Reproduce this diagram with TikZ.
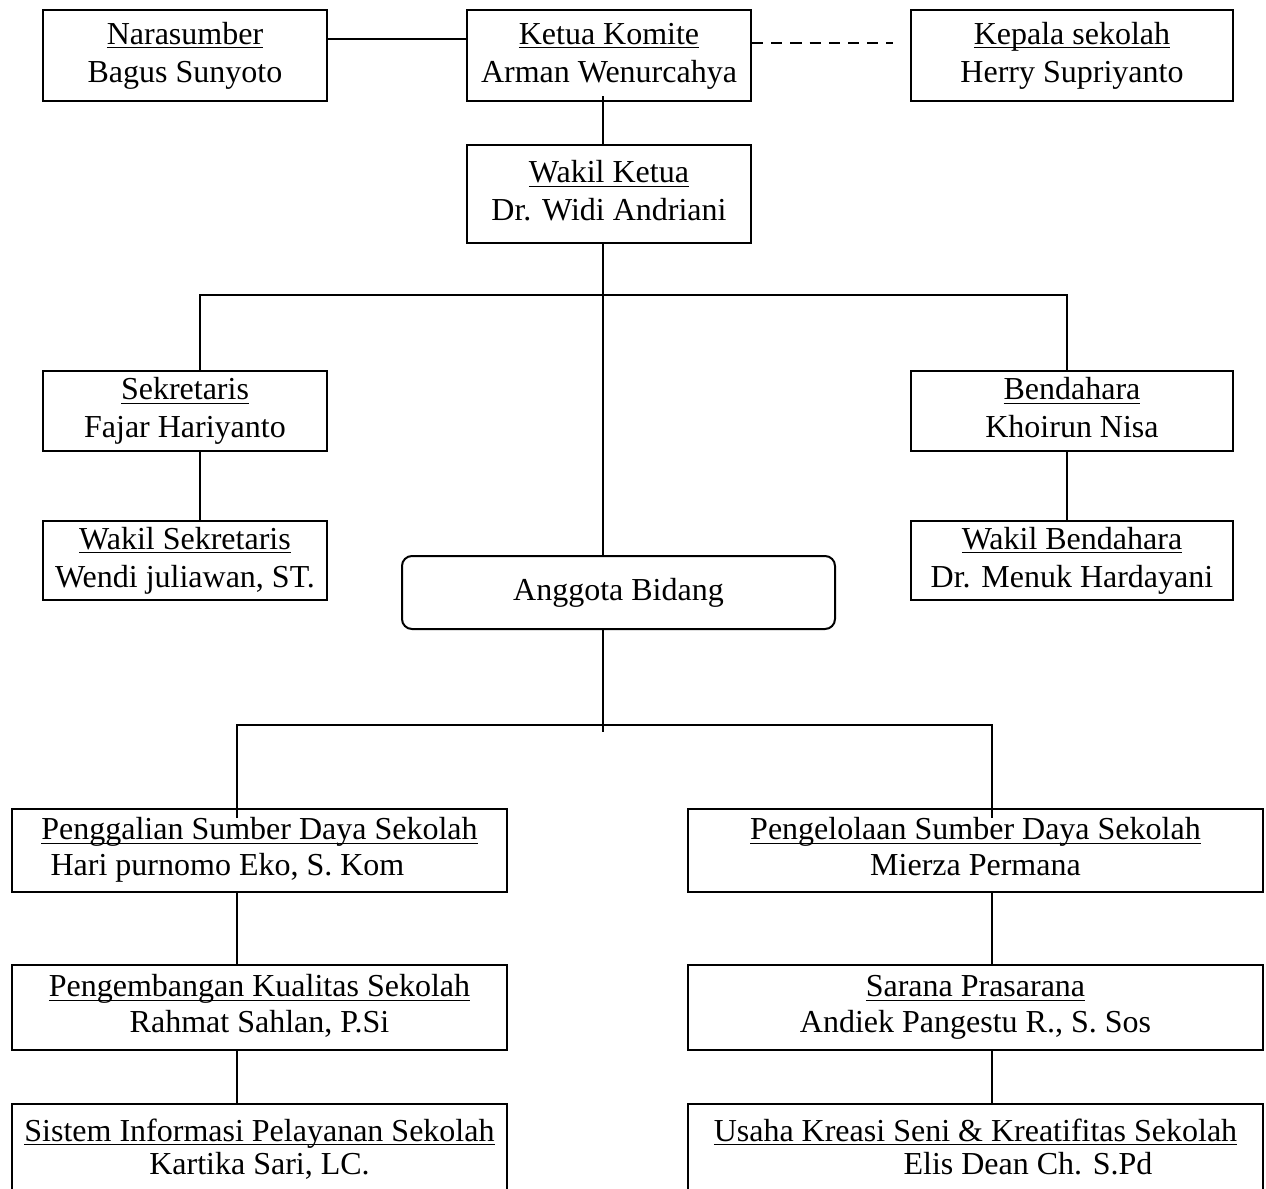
\documentclass[tikz,border=0pt]{standalone}
\usepackage{fontspec}
\setmainfont{Liberation Serif}
\newcommand{\jab}[2]{\strut\underline{\smash{#1}}\\#2\strut}
\usetikzlibrary{positioning}

\begin{document}
\begin{tikzpicture}[
        box/.style={draw, line width=0.75pt, align=center, inner sep=0pt,
            font=\fontsize{12pt}{14.25pt}\selectfont},
        sempit/.style={box, minimum width=106.5pt},
        lebar/.style={box, minimum width=120.75pt},
        kiri/.style={box, minimum width=185.625pt},
        kanan/.style={box, minimum width=215.625pt},
        jarak36/.style={font=\fontsize{12pt}{13.5pt}\selectfont},
        jarak30/.style={font=\fontsize{12pt}{11.25pt}\selectfont},
        garis/.style={line width=0.75pt}]

        \useasboundingbox (-69.375pt, 20.8125pt) rectangle (405.375pt, -425.0625pt);
        \clip (-69.375pt, 20.8125pt) rectangle (405.375pt, -425.0625pt);

        % Pengurus inti
        \node[sempit, minimum height=34.125pt] (nara) at (0, 0)
        {\jab{Narasumber}{Bagus Sunyoto}};
        \node[sempit, minimum height=34.125pt] (ketua) [right=51.75pt of nara]
        {\jab{Ketua Komite}{Arman Wenurcahya}};
        \node[lebar, minimum height=34.125pt] (kepala) [right=59.25pt of ketua]
        {\jab{Kepala sekolah}{Herry Supriyanto}};
        \node[sempit, minimum height=36.75pt] (wakil) [below=15.75pt of ketua]
        {\jab{Wakil Ketua}{Dr. Widi Andriani}};

        \node[sempit, minimum height=30pt] (sek) [below=100.5pt of nara]
        {\jab{Sekretaris}{Fajar Hariyanto}};
        \node[sempit, minimum height=29.625pt] (wsek) [below=25.5pt of sek]
        {\jab{Wakil Sekretaris}{Wendi juliawan, ST.}};
        \node[lebar, minimum height=30pt] (bend) [below=100.5pt of kepala]
        {\jab{Bendahara}{Khoirun Nisa}};
        \node[lebar, minimum height=29.625pt] (wbend) [below=25.5pt of bend]
        {\jab{Wakil Bendahara}{Dr. Menuk Hardayani}};

        \node[box, rounded corners=3.75pt, minimum width=162.375pt,
            minimum height=27.375pt] (ang) [below=116.625pt of wakil, xshift=3.5625pt]
        {Anggota Bidang};

        % Bidang-bidang
        \node[kiri, jarak36, minimum height=31.125pt] (gali) [below=66.75pt of ang, xshift=-134.625pt]
        {\jab{Penggalian Sumber Daya Sekolah}{Hari purnomo Eko, S. Kom\hspace*{24pt}}};
        \node[kanan, jarak36, minimum height=31.125pt] (kelola) [right=67.125pt of gali]
        {\jab{Pengelolaan Sumber Daya Sekolah}{Mierza Permana}};
        \node[kiri, jarak36, minimum height=31.875pt] (kembang) [below=26.625pt of gali]
        {\jab{Pengembangan Kualitas Sekolah}{Rahmat Sahlan, P.Si}};
        \node[kanan, jarak36, minimum height=31.875pt] (sarana) [below=26.625pt of kelola]
        {\jab{Sarana Prasarana}{Andiek Pangestu R., S. Sos}};
        \node[kiri, jarak30, minimum height=52.5pt] (sistem) [below=19.5pt of kembang]
        {\jab{Sistem Informasi Pelayanan Sekolah}{Kartika Sari, LC.\rule[-19.875pt]{0pt}{0pt}}};
        \node[kanan, jarak30, minimum height=52.5pt] (usaha) [below=19.5pt of sarana]
        {\jab{Usaha Kreasi Seni \& Kreatifitas Sekolah}{\hspace*{39.4pt}Elis Dean Ch. S.Pd\rule[-19.875pt]{0pt}{0pt}}};

        \begin{scope}[garis]
            \draw ([yshift=6.1875pt]nara.east) -- ([yshift=6.1875pt]ketua.west);
            \draw[line width=0.9pt, dash pattern=on 4.2pt off 3pt, shorten >=6.4pt]
                ([yshift=4.6875pt]ketua.east) -- ([yshift=4.6875pt]kepala.west);
            \draw ([xshift=-2.25pt, yshift=2.25pt]ketua.south) -- ([xshift=-2.25pt]wakil.north);
            \draw ([xshift=-2.25pt]wakil.south) -- ([xshift=-5.8125pt]ang.north);
            \draw ([xshift=5.625pt]sek.north)
                |- ([xshift=-2.25pt, yshift=-19.125pt]wakil.south)
                -| ([xshift=-1.875pt]bend.north);
            \draw ([xshift=5.625pt]sek.south) -- ([xshift=5.625pt]wsek.north);
            \draw ([xshift=-1.875pt]bend.south) -- ([xshift=-1.875pt]wbend.north);

            \draw ([xshift=-8.4375pt, yshift=-3.75pt]gali.north)
                |- ([xshift=-5.8125pt, yshift=-35.625pt]ang.south)
                -| ([xshift=6.1875pt, yshift=-3.75pt]kelola.north);
            \draw ([xshift=-5.8125pt]ang.south) -- ++(0, -38.25pt);
            \draw ([xshift=-8.4375pt]gali.south) -- ([xshift=-8.4375pt]kembang.north);
            \draw ([xshift=-8.4375pt]kembang.south) -- ([xshift=-8.4375pt]sistem.north);
            \draw ([xshift=6.1875pt]kelola.south) -- ([xshift=6.1875pt]sarana.north);
            \draw ([xshift=6.1875pt]sarana.south) -- ([xshift=6.1875pt]usaha.north);
        \end{scope}

\end{tikzpicture}
\end{document}
